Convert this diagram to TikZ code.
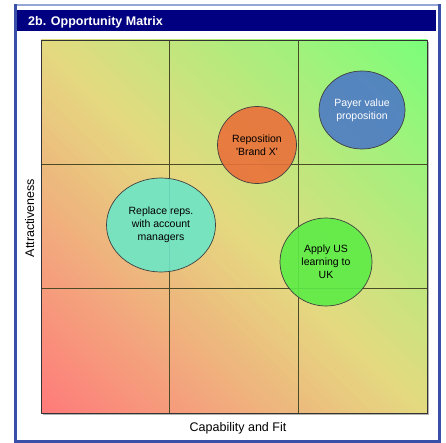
\documentclass[tikz,border=0pt]{standalone}
\usepackage{fontspec}
\setmainfont{Liberation Sans}
\usetikzlibrary{shapes.geometric}
\definecolor{frameblue}{RGB}{58,80,168}
\definecolor{framelight}{RGB}{150,165,215}
\definecolor{titlenavy}{RGB}{0,0,128}
\definecolor{gridc}{RGB}{75,75,40}
\definecolor{lowred}{RGB}{255,122,122}
\definecolor{midyel}{RGB}{228,218,128}
\definecolor{highgreen}{RGB}{122,255,122}
\definecolor{orangeb}{RGB}{234,112,58}
\definecolor{blueb}{RGB}{78,122,198}
\definecolor{tealb}{RGB}{108,230,198}
\definecolor{greenb}{RGB}{92,236,70}
\begin{document}
\begin{tikzpicture}[x=1pt,y=-1pt,
  bubble/.style={ellipse, draw=black!75, line width=0.7pt, fill opacity=0.9, text opacity=1,
    align=center, font=\fontsize{10.5}{13}\selectfont, inner sep=0pt},
  axislabel/.style={font=\fontsize{12.5}{14}\selectfont, inner sep=0pt},
  gridline/.style={draw=gridc, line width=0.5pt}]
\useasboundingbox (0,0) rectangle (446,443);
\fill[white] (0,0) rectangle (446,443);
% frame
\draw[framelight, line width=1.5pt] (14,5) -- (440,5);
\draw[frameblue, line width=3pt] (15.5,4.5) -- (15.5,441.5) -- (439,441.5) -- (439,4.5);
\fill[titlenavy] (17,10) rectangle (436,31.5);
\node[anchor=base west, text=white, font=\bfseries\fontsize{12.5}{14}\selectfont, inner sep=0pt] (title) at (28,26) {2b. Opportunity Matrix};
% plot area
\fill[black!30] (43,42) rectangle (429,415);
\begin{scope}
\clip (41,40) rectangle (427,413);
\foreach \i in {0,...,99}{
  \pgfmathsetmacro\ua{\i*0.02}
  \pgfmathsetmacro\ub{\ua+0.03}
  \pgfmathsetmacro\tv{(\i+0.5)/100}
  \pgfmathsetmacro\pa{min(100,200*\tv)}
  \pgfmathsetmacro\pb{max(0,200*\tv-100)}
  \colorlet{stripc}{midyel!\pa!lowred}
  \colorlet{stripc}{highgreen!\pb!stripc}
  \fill[stripc] (-345,{413-373*(\ua+1)}) -- ({41+386*(\ua+1)},786) -- ({41+386*(\ub+1)},786) -- (-345,{413-373*(\ub+1)}) -- cycle;
}
\end{scope}
\draw[gridline] (169.7,40) -- (169.7,413);
\draw[gridline] (298.3,40) -- (298.3,413);
\draw[gridline] (41,164.3) -- (427,164.3);
\draw[gridline] (41,288.7) -- (427,288.7);
\draw[black!80, line width=0.8pt] (41,40) rectangle (427,413);
% axis labels
\node[axislabel, rotate=90, anchor=base] (ylab) at (34,218) {Attractiveness};
\node[axislabel, anchor=base] (xlab) at (238,431) {Capability and Fit};
% bubbles
\node[bubble, fill=orangeb, minimum width=79pt, minimum height=77pt] (repos) at (257,145) {Reposition\\\textquotesingle Brand X\textquotesingle};
\node[bubble, fill=blueb, text=white, minimum width=86pt, minimum height=78pt] (payer) at (362,110) {Payer value\\proposition};
\node[bubble, fill=tealb, minimum width=109pt, minimum height=94pt] (replace) at (161,225) {Replace reps.\\with account\\managers};
\node[bubble, fill=greenb, minimum width=92pt, minimum height=88pt] (apply) at (326,262) {Apply US\\learning to\\UK};
\end{tikzpicture}
\end{document}
